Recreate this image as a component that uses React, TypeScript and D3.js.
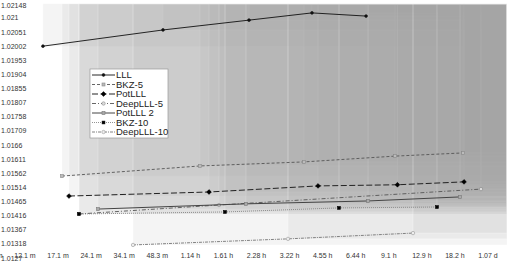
import * as d3 from "d3";

// tick labels (log2 seconds on x, k/2048 on y)
const xTickLabels = ["8.53 m", "12.1 m", "17.1 m", "24.1 m", "34.1 m", "48.3 m", "1.14 h", "1.61 h", "2.28 h", "3.22 h", "4.55 h", "6.44 h", "9.1 h", "12.9 h", "18.2 h", "1.07 d"];
const yTickLabels = ["1.0127", "1.01318", "1.01367", "1.01416", "1.01465", "1.01514", "1.01562", "1.01611", "1.0166", "1.01709", "1.01758", "1.01807", "1.01855", "1.01904", "1.01953", "1.02002", "1.02051", "1.021", "1.02148"];

// series: running time (s) and root Hermite factor
const lllTime = [874, 3075, 7573, 14650, 25820];
const lllValue = [1.02002, 1.02058, 1.02092, 1.02117, 1.02106];
const bkz5Time = [1067, 4532, 13475, 34980, 71330];
const bkz5Value = [1.01553, 1.01588, 1.01602, 1.01622, 1.01633];
const potTime = [1148, 4980, 15610, 35880, 72080];
const potValue = [1.01484, 1.01498, 1.01519, 1.01523, 1.01533];
const deep5Time = [1275, 5530, 86110];
const deep5Value = [1.01422, 1.01453, 1.01508];
const pot2Time = [1556, 7337, 26370, 69140];
const pot2Value = [1.01439, 1.01457, 1.01467, 1.01481];
const bkz10Time = [1275, 5890, 19450, 54300];
const bkz10Value = [1.01422, 1.01429, 1.01443, 1.01446];
const deep10Time = [2246, 11396, 42230];
const deep10Value = [1.01315, 1.01336, 1.01356];

type Series = {
    name: string; time: number[]; value: number[];
    stroke: string; dash?: string; sw: number;
    marker: "circle" | "square" | "diamond"; size: number; mfill: string; mstroke: string;
};

const series: Series[] = [
    { name: "LLL", time: lllTime, value: lllValue, stroke: "#111", sw: 0.9, marker: "circle", size: 1.4, mfill: "#111", mstroke: "#111" },
    { name: "BKZ-5", time: bkz5Time, value: bkz5Value, stroke: "#555", dash: "3,2", sw: 0.9, marker: "square", size: 3, mfill: "#bbb", mstroke: "#888" },
    { name: "PotLLL", time: potTime, value: potValue, stroke: "#222", dash: "6,2.5", sw: 1, marker: "diamond", size: 2.4, mfill: "#000", mstroke: "#000" },
    { name: "DeepLLL-5", time: deep5Time, value: deep5Value, stroke: "#555", dash: "4,2,1,2", sw: 0.9, marker: "circle", size: 1.7, mfill: "#ddd", mstroke: "#888" },
    { name: "PotLLL 2", time: pot2Time, value: pot2Value, stroke: "#444", sw: 1, marker: "square", size: 3, mfill: "#aaa", mstroke: "#777" },
    { name: "BKZ-10", time: bkz10Time, value: bkz10Value, stroke: "#777", dash: "1,1", sw: 0.8, marker: "square", size: 2.8, mfill: "#000", mstroke: "#000" },
    { name: "DeepLLL-10", time: deep10Time, value: deep10Value, stroke: "#666", dash: "3,1,1,1", sw: 0.8, marker: "circle", size: 1.7, mfill: "#eee", mstroke: "#999" },
];

const font = "'Liberation Sans', Arial, sans-serif";

function Marker({ s, cx, cy }: { s: Series; cx: number; cy: number }) {
    if (s.marker === "square") {
        return <rect x={cx - s.size / 2} y={cy - s.size / 2} width={s.size} height={s.size} fill={s.mfill} stroke={s.mstroke} strokeWidth={0.6} />;
    }
    if (s.marker === "diamond") {
        const r = s.size;
        return <path d={`M${cx},${cy - r}L${cx + r},${cy}L${cx},${cy + r}L${cx - r},${cy}Z`} fill={s.mfill} stroke={s.mstroke} strokeWidth={0.5} />;
    }
    return <circle cx={cx} cy={cy} r={s.size} fill={s.mfill} stroke={s.mstroke} strokeWidth={0.6} />;
}

export default function App() {
    const width = 509;
    const height = 261;
    const right = 507;
    const top = 3.8;
    const bottom = 258.1;

    const x = d3.scaleLog().base(2).domain([2 ** 9.122, 2 ** 16.787]).range([0, right]);
    const y = d3.scaleLinear().domain([2074 / 2048, 2092 / 2048]).range([bottom, top]);
    const line = d3.line<[number, number]>().x(d => x(d[0])).y(d => y(d[1]));

    const xTicks = xTickLabels.map((l, i) => ({ v: 2 ** (9 + i / 2), l }));
    const yTicks = yTickLabels.map((l, i) => ({ v: (2074 + i) / 2048, l }));

    const points = series.flatMap(s => s.time.map((t, i) => ({ t, v: s.value[i] })));

    const lx = 92, ly = 75, lstep = 9.5;

    return (
        <svg width={width} height={height} style={{ position: "absolute", left: 0, top: 0 }} fontFamily={font}>
            <rect width={width} height={height} fill="#fff" />
            <g>
                {points.map((p, i) => (
                    <rect key={i} x={x(p.t)} y={top} width={right - x(p.t)} height={y(p.v) - top}
                        fill="#a4a4a4" fillOpacity={0.12} stroke="#fff" strokeOpacity={0.45} strokeWidth={0.7} />
                ))}
            </g>
            {series.map(s => (
                <g key={s.name}>
                    <path d={line(s.time.map((t, i) => [t, s.value[i]] as [number, number])) ?? undefined}
                        fill="none" stroke={s.stroke} strokeWidth={s.sw} strokeDasharray={s.dash} />
                    {s.time.map((t, i) => <Marker key={i} s={s} cx={x(t)} cy={y(s.value[i])} />)}
                </g>
            ))}
            <g fontSize={7} fill="#333">
                {yTicks.map(t => (
                    <text key={t.l} x={1} y={Math.max(y(t.v), 6)} dy="0.35em">{t.l}</text>
                ))}
                {xTicks.map(t => (
                    <text key={t.l} x={x(t.v)} y={256} dy="0.35em" textAnchor="middle">{t.l}</text>
                ))}
            </g>
            <g>
                <rect x={90} y={69} width={78} height={69} fill="#fff" stroke="#999" strokeWidth={0.7} />
                {series.map((s, i) => {
                    const cy = ly + i * lstep;
                    return (
                        <g key={s.name}>
                            <line x1={lx} x2={lx + 23} y1={cy} y2={cy} stroke={s.stroke} strokeWidth={s.sw} strokeDasharray={s.dash} />
                            <Marker s={s} cx={lx + 11.5} cy={cy} />
                            <text x={lx + 24} y={cy} dy="0.35em" fontSize={9.5} fill="#222">{s.name}</text>
                        </g>
                    );
                })}
            </g>
        </svg>
    );
}
